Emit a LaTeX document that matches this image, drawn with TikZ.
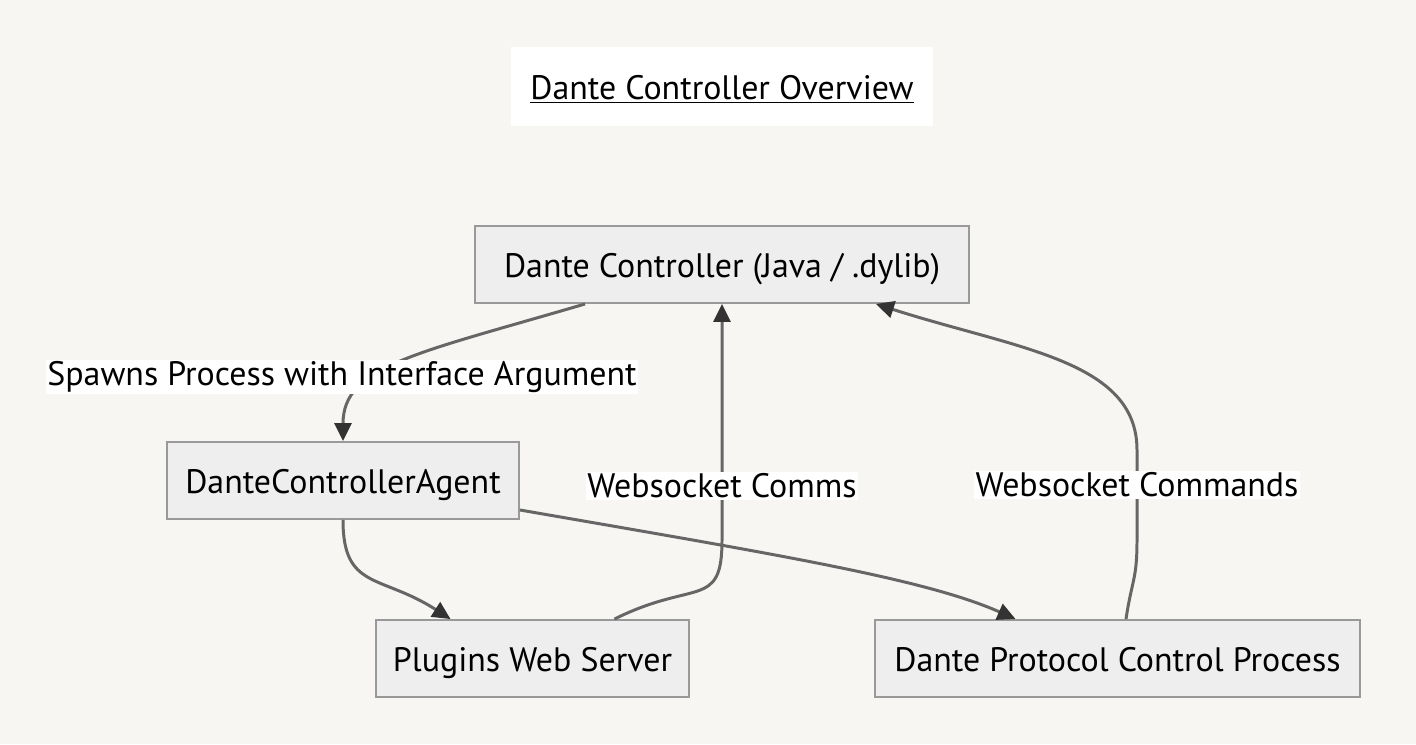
\documentclass[tikz,border=0pt]{standalone}
\usepackage{fontspec}
\setmainfont{PT Sans}
\usepackage{tikz}
\usetikzlibrary{shapes,arrows,arrows.meta,positioning}

\definecolor{bgcol}{HTML}{F7F6F3}
\definecolor{boxfill}{HTML}{EEEEEE}
\definecolor{boxline}{HTML}{999999}
\definecolor{edgeline}{HTML}{666666}
\definecolor{tipcol}{HTML}{333333}

\begin{document}
\begin{tikzpicture}[x=0.02cm,y=-0.02cm,
  procbox/.style={draw=boxline,fill=boxfill,line width=1.1pt,minimum height=1.54cm,
    font=\fontsize{19.3}{22}\selectfont,text height=0.62cm,text depth=0.1cm,inner sep=0pt},
  flow/.style={draw=edgeline,line width=1.7pt,
    -{Triangle[length=0.36cm,width=0.34cm,color=tipcol]}},
  lbl/.style={fill=white,inner sep=1pt,font=\fontsize{19.3}{22}\selectfont}]
\useasboundingbox (0,0) rectangle (1416,744);
\fill[bgcol] (0,0) rectangle (1416,744);

% title
\node[fill=white,minimum width=8.44cm,minimum height=1.58cm,inner sep=0pt,
  text height=0.62cm,text depth=0.1cm,font=\fontsize{19.3}{22}\selectfont] (title) at (722,86.5) {\underline{Dante Controller Overview}};

% boxes
\node[procbox,minimum width=9.88cm] (dc) at (722,264.5) {Dante Controller (Java / .dylib)};
\node[procbox,minimum width=7.04cm] (agent) at (343,480.5) {DanteControllerAgent};
\node[procbox,minimum width=6.26cm] (plugins) at (532.5,658.5) {Plugins Web Server};
\node[procbox,minimum width=9.70cm] (proto) at (1117.5,658.5) {Dante Protocol Control Process};

% connectors
\draw[flow] ([xshift=-2.74cm]dc.south) .. controls +(-170,50) and +(0,-75) .. (agent.north);
\node[lbl] (spawn) at (342,377) {Spawns Process with Interface Argument};

\draw[flow] (agent.south) .. controls +(0,70) and +(-70,-45) .. ([xshift=-1.64cm]plugins.north);
\draw[flow] ([yshift=-0.59cm]agent.east) .. controls +(260,45) and +(-90,-40) .. ([xshift=-2.04cm]proto.north);

\draw[flow] ([xshift=1.64cm]plugins.north) .. controls +(80,-40) and +(0,70) .. (722,540)
  -- (dc.south) node[lbl,pos=0.23] (comms) {Websocket Comms};
\draw[flow] ([xshift=0.17cm]proto.north) .. controls +(6,-40) and +(0,40) .. (1137,540)
  -- (1137,450) node[lbl,pos=0.61] (cmds) {Websocket Commands}
  .. controls +(0,-90) and +(140,45) .. ([xshift=-1.88cm]dc.south east);
\end{tikzpicture}
\end{document}
